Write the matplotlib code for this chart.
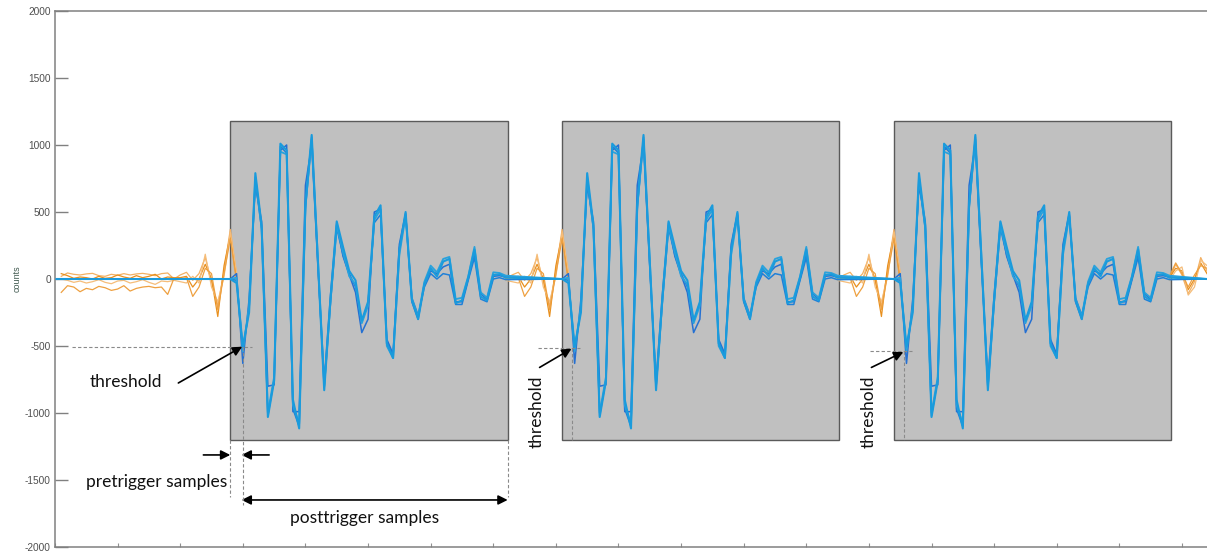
import numpy as np
import matplotlib
matplotlib.use("Agg")
import matplotlib.pyplot as plt
from matplotlib.patches import Rectangle

plt.rcParams["axes.unicode_minus"] = False

# ---------------------------------------------------------------------------
# Stream layout (sample index on the x axis)
# ---------------------------------------------------------------------------
record_starts = [28, 81, 134]          # first sample of each triggered record
record_length = 45                      # samples per record
trigger_offset = 2                      # sample where the threshold is crossed
x_limits = (0.27, 184.0)
y_ticks = [-2000, -1500, -1000, -500, 0, 500, 1000, 1500, 2000]
y_tick_labels = ["-2000", "-1500", "-1000", "-500", "0", "500", "1000", "1500", "2000"]
x_ticks = list(range(0, 190, 10))

# ---------------------------------------------------------------------------
# Triggered records (counts), four overlaid acquisitions
# ---------------------------------------------------------------------------
record_a = [0, -30, -505, -250, 790, 400, -1030, -760, 1010, 960, -900, -1115,
            560, 1075, 120, -830, -150, 430, 240, 60, -10, -310, -170, 465,
            550, -480, -590, 215, 500, -160, -300, -40, 80, 20, 130, 150,
            -180, -160, 10, 220, -130, -160, 30, 35, 10]
record_b = [0, 40, -630, -150, 700, 430, -800, -790, 960, 1000, -990, -990,
            700, 1000, 90, -760, -120, 420, 170, 30, -100, -400, -300, 500,
            520, -450, -560, 260, 490, -170, -300, -30, 60, 40, 90, 110,
            -170, -170, 0, 190, -110, -150, 20, 25, 15]
record_c = [0, 10, -540, -200, 760, 380, -1000, -730, 950, 930, -940, -1080,
            540, 1040, 150, -800, -170, 400, 200, 20, -40, -330, -200, 440,
            520, -500, -590, 180, 470, -150, -280, -20, 100, 50, 150, 165,
            -150, -140, 20, 240, -100, -140, 50, 45, 25]
record_d = [0, -10, -520, -230, 740, 370, -1020, -750, 990, 940, -970, -1100,
            520, 1060, 100, -810, -180, 380, 180, 40, -60, -320, -180, 420,
            480, -470, -570, 230, 480, -140, -270, -60, 40, 0, 40, 30,
            -190, -190, -10, 160, -150, -170, 0, 10, -5]

# ---------------------------------------------------------------------------
# Untriggered stream (counts)
# ---------------------------------------------------------------------------
# idle noise before the first record, samples 1..18
idle_a = [20, 45, 35, 30, 38, 42, 25, 20, 35, 28, 40, 30, 38, 42, 35, 25, 40, 45]
idle_b = [40, 25, 5, 15, 10, 0, 20, 5, 10, 30, 15, 5, 25, 10, 20, 35, 0, 15]
idle_c = [0, -10, -25, -15, -30, -20, -5, -25, -35, -15, -10, -30, -20, -5, -25, -40, -15, -20]
idle_d = [-100, -50, -60, -95, -70, -80, -55, -65, -85, -75, -50, -90, -70, -60, -55, -65, -60, -115]

# lead-in before every record, offsets -9 .. +1 from the record start
lead_a = [0, 30, 50, -10, 40, 160, -20, -200, 60, 370, 30]
lead_b = [10, 10, 20, -60, 0, 110, 0, -280, 100, 330, 0]
lead_c = [-10, -20, -30, 20, -30, 185, -60, -170, 20, 350, 50]
lead_d = [5, 0, 10, -130, -60, 80, 40, -230, 40, 300, -20]
lead_offsets = list(range(-9, 2))

# stream after the last record, offsets 0 .. 6 from its end
tail_a = [0, 110, 30, -110, -20, 160, 60]
tail_b = [10, 80, 60, -80, 0, 120, 40]
tail_c = [-10, 60, 90, -120, -60, 140, 100]
tail_d = [20, 120, 40, -60, 30, 100, 80]

records = [record_b, record_d, record_c, record_a]
record_colors = ["#2570d2", "#1f80d8", "#2aa2dc", "#1a9bdc"]
record_widths = [1.1, 1.1, 1.3, 1.5]

idles = [idle_a, idle_b, idle_c, idle_d]
leads = [lead_a, lead_b, lead_c, lead_d]
tails = [tail_a, tail_b, tail_c, tail_d]
stream_colors = ["#f3b063", "#e8901f", "#f5bd7a", "#eea040"]

# ---------------------------------------------------------------------------
fig = plt.figure(figsize=(12.07, 5.52), dpi=100)
ax = fig.add_axes([55 / 1207, 5 / 552, 1152 / 1207, 536 / 552])

box_span = record_length - 0.7
box_bottom, box_top = -1200, 1180
for s in record_starts:
    ax.add_patch(Rectangle((s, box_bottom), box_span, box_top - box_bottom,
                           facecolor="#c0c0c0", edgecolor="#5a5a5a",
                           linewidth=1.0, zorder=1))

# untriggered stream
for idle, lead, tail, col in zip(idles, leads, tails, stream_colors):
    xs, ys = [], []
    first = record_starts[0]
    xs += list(range(1, 1 + len(idle)))
    ys += idle
    for s in record_starts:
        xs += [s + o for o in lead_offsets]
        ys += lead
        xs.append(np.nan)
        ys.append(np.nan)
    end = record_starts[-1] + record_length - 1
    xs += [end + k for k in range(len(tail))]
    ys += tail
    ax.plot(xs, ys, color=col, lw=0.9, zorder=2)

# triggered records with the zero line between them
for rec, col, lw in zip(records, record_colors, record_widths):
    xs, ys = [x_limits[0]], [0]
    for s in record_starts:
        xs += [s + i for i in range(len(rec))]
        ys += rec
    xs.append(x_limits[1])
    ys.append(0)
    ax.plot(xs, ys, color=col, lw=lw, zorder=3)

# ---------------------------------------------------------------------------
# annotations
dash = dict(color="#8a8a8a", lw=0.8, ls=(0, (3, 2)), zorder=4)
arrow = dict(arrowstyle="-|>", color="black", lw=1.2, mutation_scale=14,
             shrinkA=0, shrinkB=0)
text_font = dict(family="Lato", fontsize=12.5, color="#111111")

s0 = record_starts[0]
trig0 = s0 + trigger_offset
marks = [-505, -515, -540]

# record 1
ax.plot([2.7, trig0 + 1.4], [marks[0], marks[0]], **dash)
ax.plot([trig0, trig0], [marks[0], -1690], **dash)
ax.plot([s0, s0], [box_bottom, -1630], **dash)
ax.plot([s0 + box_span, s0 + box_span], [box_bottom, -1630], **dash)
ax.annotate("", xy=(trig0 - 0.1, marks[0]), xytext=(19.7, -776), arrowprops=arrow, zorder=5)
ax.text(11.4, -769, "threshold", ha="center", va="center", **text_font)

ax.annotate("", xy=(s0, -1313), xytext=(23.7, -1313), arrowprops=arrow)
ax.annotate("", xy=(trig0 - 0.2, -1313), xytext=(34.2, -1313), arrowprops=arrow)
ax.text(16.3, -1515, "pretrigger samples", ha="center", va="center", **text_font)

ax.annotate("", xy=(s0 + box_span, -1649), xytext=(trig0 - 0.2, -1649),
            arrowprops=dict(arrowstyle="<|-|>", color="black", lw=1.2,
                            mutation_scale=14, shrinkA=0, shrinkB=0))
ax.text(49.5, -1784, "posttrigger samples", ha="center", va="center", **text_font)

# records 2 and 3
for s, m in zip(record_starts[1:], marks[1:]):
    t = s + trigger_offset - 0.4
    ax.plot([t - 5.5, t + 1.3], [m, m], **dash)
    ax.plot([t, t], [m, box_bottom], **dash)
    ax.annotate("", xy=(t - 0.1, m - 5), xytext=(t - 5.2, -660), arrowprops=arrow, zorder=5)
    ax.text(t - 5.6, -990, "threshold", rotation=90, ha="center", va="center", **text_font)

# ---------------------------------------------------------------------------
ax.set_xlim(*x_limits)
ax.set_ylim(-2000, 2000)
ax.set_yticks(y_ticks)
ax.set_yticklabels(y_tick_labels)
ax.set_xticks(x_ticks)
ax.set_xticklabels([])
ax.tick_params(axis="y", direction="in", length=9, width=1.0, color="#808080",
               pad=3, labelsize=7.3, labelcolor="#4f4f4f")
ax.tick_params(axis="x", direction="in", length=3, width=0.8, color="#909090")
for lab in ax.get_yticklabels():
    lab.set_family("Liberation Sans")
for side in ("left", "bottom", "top"):
    ax.spines[side].set_color("#808080")
    ax.spines[side].set_linewidth(1.1)
ax.spines["right"].set_visible(False)

fig.text(17 / 1207, 1 - 279 / 552, "counts", rotation=90, ha="center",
         va="center", fontsize=6.5, color="#40594f", family="Liberation Sans")

fig.savefig("out.png", dpi=100)
